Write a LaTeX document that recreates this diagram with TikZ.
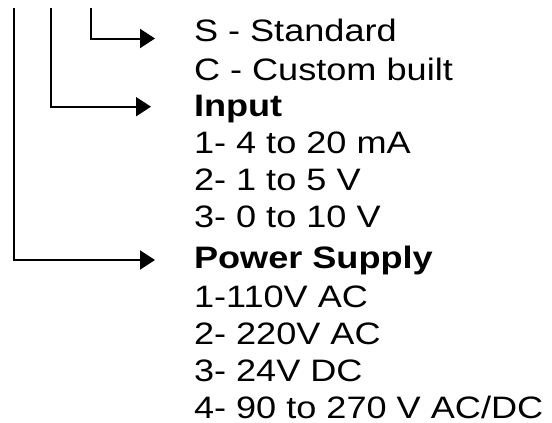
\documentclass[tikz,border=0pt]{standalone}
\usepackage{fontspec}
\setmainfont{Liberation Sans}[FakeStretch=1.165]
\usepackage{tikz}
\usetikzlibrary{arrows.meta}

\begin{document}
\begin{tikzpicture}[x=1pt, y=-1pt, line width=2pt, font=\fontsize{31}{36}\selectfont,
    row/.style={anchor=base west, inner sep=0pt},
    head/.style={row, font=\fontsize{31}{36}\selectfont\bfseries},
    >={Triangle[length=15pt, width=19pt]}]
    \useasboundingbox (0,0) rectangle (552,423);
    \node[row] (std) at (193,41.7) {S - Standard};
    \node[row] (cust) at (193,80) {C - Custom built};
    \node[head] (inp) at (193,116.5) {Input};
    \node[row] (inpA) at (193,153.5) {1- 4 to 20 mA};
    \node[row] (inpB) at (193,190.5) {2- 1 to 5 V};
    \node[row] (inpC) at (193,227.5) {3- 0 to 10 V};
    \node[head] (pwr) at (193,268.3) {Power Supply};
    \node[row] (pwrA) at (193,307) {1-110V AC};
    \node[row] (pwrB) at (193,344) {2- 220V AC};
    \node[row] (pwrC) at (193,381) {3- 24V DC};
    \node[row] (pwrD) at (193,418.3) {4- 90 to 270 V AC/DC};
    \coordinate (buildTop) at (91,8);
    \coordinate (buildEnd) at (155,38.5);
    \coordinate (inpTop) at (51,8);
    \coordinate (inpEnd) at (151,106.7);
    \coordinate (pwrTop) at (14,8);
    \coordinate (pwrEnd) at (155,260);
    \draw[->] (buildTop) |- (buildEnd);
    \draw[->] (inpTop) |- (inpEnd);
    \draw[->] (pwrTop) |- (pwrEnd);
\end{tikzpicture}
\end{document}
